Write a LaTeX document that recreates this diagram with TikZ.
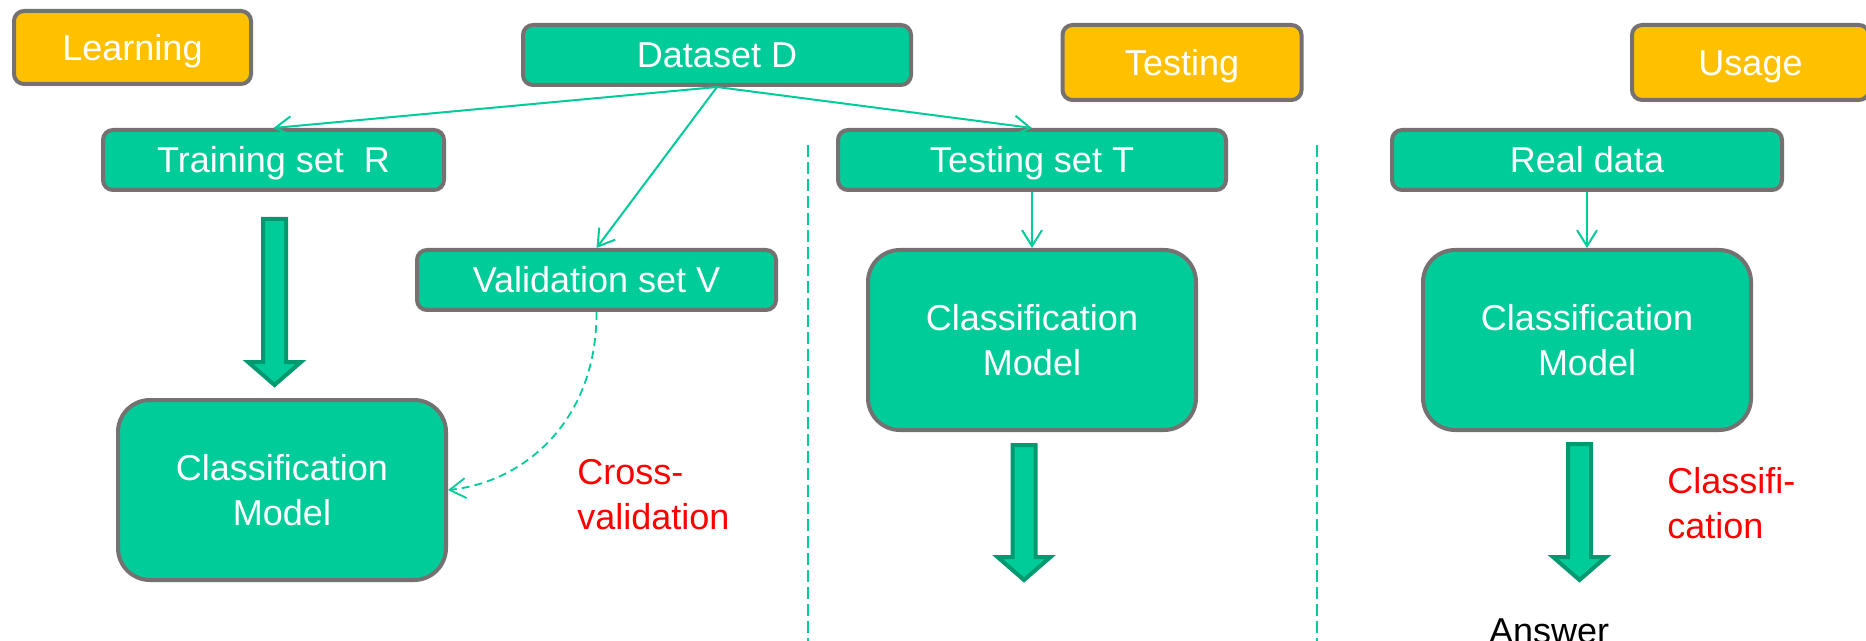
\documentclass[tikz,border=0pt]{standalone}
\usepackage{fontspec}
\setmainfont{Liberation Sans}
\usetikzlibrary{arrows.meta}
\definecolor{tealbox}{HTML}{00CC99}
\definecolor{orangebox}{HTML}{FFC000}
\definecolor{grayedge}{HTML}{767171}
\definecolor{arrowedge}{HTML}{009970}
\newcommand\blockarr[4]{%
  \draw[blockarrow] (#1-11.5,#2+2) -- (#1+11.5,#2+2) -- (#1+11.5,#3+2) -- (#1+26.5,#3+2)
    -- (#1,#4-3) -- (#1-26.5,#3+2) -- (#1-11.5,#3+2) -- cycle;}
\begin{document}
\begin{tikzpicture}[x=0.5pt,y=-0.5pt,
  boxbase/.style={draw=grayedge, line width=2pt, fill=tealbox, rounded corners=5pt,
    text=white, font=\fontsize{18}{22.5}\selectfont, inner sep=0pt, align=center},
  box/.style={boxbase, text height=12.9pt, text depth=0pt},
  phase/.style={box, fill=orangebox},
  model/.style={boxbase, rounded corners=16pt, minimum width=164pt, minimum height=90pt},
  link/.style={draw=tealbox, line width=1pt, -{Straight Barb[length=8pt,width=10pt]}},
  crossv/.style={draw=tealbox, line width=0.9pt, dash pattern=on 4pt off 2.5pt,
    -{Straight Barb[length=8pt,width=10pt]}},
  divider/.style={draw=tealbox, line width=0.75pt, dash pattern=on 6pt off 2.5pt},
  blockarrow/.style={fill=tealbox, draw=arrowedge, line width=2pt, line join=miter},
  note/.style={text=red, font=\fontsize{18}{22.5}\selectfont, align=left, inner sep=0pt}]
\useasboundingbox (0,0) rectangle (1866,641);

% phase labels
\node[phase, minimum width=118.5pt, minimum height=36.5pt] (learn) at (132.5,47.5) {Learning};
\node[phase, minimum width=119.5pt, minimum height=37.5pt] (test) at (1182,62.5) {Testing};
\node[phase, minimum width=118.5pt, minimum height=37.5pt] (usage) at (1750.5,62.5) {Usage};

% data boxes
\node[box, minimum width=194pt, minimum height=30pt] (D) at (717,55) {Dataset D};
\node[box, minimum width=170.5pt, minimum height=30pt] (R) at (273.5,160) {Training set\ \ R};
\node[box, minimum width=179.5pt, minimum height=30pt] (V) at (596.5,280) {Validation set V};
\node[box, minimum width=194pt, minimum height=30pt] (T) at (1032,160) {Testing set T};
\node[box, minimum width=195pt, minimum height=30pt] (RD) at (1587,160) {Real data};

% models
\node[model] (M1) at (282,490) {Classification\\Model};
\node[model] (M2) at (1032,340) {Classification\\Model};
\node[model] (M3) at (1587,340) {Classification\\Model};

% thin connectors
\draw[link] (D.south) -- (R.north);
\draw[link] (D.south) -- (V.north);
\draw[link] (D.south) -- (T.north);
\draw[link] (T.south) -- (M2.north);
\draw[link] (RD.south) -- (M3.north);
\draw[crossv] (V.south) .. controls (597,420) and (525,482) .. (M1.east);

% dividers
\coordinate (d1t) at (808,145); \coordinate (d1b) at (808,641);
\coordinate (d2t) at (1317,145); \coordinate (d2b) at (1317,641);
\draw[divider] (d1t) -- (d1b);
\draw[divider] (d2t) -- (d2b);

% block arrows
\blockarr{274.5}{217}{360}{388}
\blockarr{1024}{443}{555}{583}
\blockarr{1579.5}{442}{555}{583}

% labels
\node[note, anchor=north west] (cv) at (577,459) {Cross-\\validation};
\node[note, anchor=north west] (cl) at (1667,467) {Classifi-\\cation};
\node[font=\fontsize{18}{22.5}\selectfont, inner sep=0pt, anchor=base] (ans) at (1549,643) {Answer};
\end{tikzpicture}
\end{document}
